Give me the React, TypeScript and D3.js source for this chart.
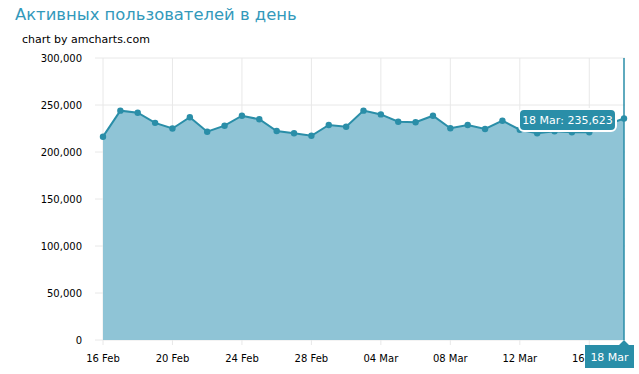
import React from "react";
import * as d3 from "d3";

const dates = [
  "2015-02-16", "2015-02-17", "2015-02-18", "2015-02-19", "2015-02-20", "2015-02-21",
  "2015-02-22", "2015-02-23", "2015-02-24", "2015-02-25", "2015-02-26", "2015-02-27",
  "2015-02-28", "2015-03-01", "2015-03-02", "2015-03-03", "2015-03-04", "2015-03-05",
  "2015-03-06", "2015-03-07", "2015-03-08", "2015-03-09", "2015-03-10", "2015-03-11",
  "2015-03-12", "2015-03-13", "2015-03-14", "2015-03-15", "2015-03-16", "2015-03-17",
  "2015-03-18",
];
const values = [
  216300, 244000, 241800, 231000, 225000, 237000, 221600, 228000, 238600, 234800,
  222300, 219900, 217300, 228700, 226900, 244000, 240000, 232200, 231600, 238600,
  225200, 228700, 224500, 233300, 223700, 220000, 222000, 221000, 221000, 229000,
  235623,
];
const xTickDates = [
  "2015-02-16", "2015-02-20", "2015-02-24", "2015-02-28",
  "2015-03-04", "2015-03-08", "2015-03-12", "2015-03-16",
];
const yTicks = [0, 50000, 100000, 150000, 200000, 250000, 300000];
const title = "Активных пользователей в день";
const credit = "chart by amcharts.com";

const W = 639;
const H = 374;
const M = { left: 103, right: 15, top: 58, bottom: 34 };

const LINE = "#2a8ea8";
const FILL = "#8fc4d6";
const TITLE = "#3399bb";
const GRID = "#e8e8e8";
const FONT = "DejaVu Sans, Verdana, sans-serif";

export default function App() {
  const parse = d3.utcParse("%Y-%m-%d");
  const data = dates.map((d, i) => ({ date: parse(d) as Date, value: values[i] }));
  const x = d3
    .scaleUtc()
    .domain(d3.extent(data, (d) => d.date) as [Date, Date])
    .range([M.left, W - M.right]);
  const y = d3.scaleLinear().domain([0, 300000]).range([H - M.bottom, M.top]);
  const fmtDate = d3.utcFormat("%d %b");
  const fmtNum = d3.format(",");

  const area = d3
    .area<{ date: Date; value: number }>()
    .x((d) => x(d.date))
    .y0(y(0))
    .y1((d) => y(d.value));
  const line = d3
    .line<{ date: Date; value: number }>()
    .x((d) => x(d.date))
    .y((d) => y(d.value));

  const last = data[data.length - 1];
  const cx = x(last.date);
  const cy = y(last.value);
  const plotLeft = M.left - 8;
  const plotRight = W - M.right + 1;

  const tipText = `${fmtDate(last.date)}: ${fmtNum(last.value)}`;
  const tipW = 97;
  const tipH = 22;
  const tipX = cx - 105;
  const tipY = cy - 9.5;

  const catW = 49;
  const catX = Math.min(cx - catW / 2, W - 5 - catW);
  const catY = y(0) + 5;
  const catH = 23;

  return (
    <svg width={W} height={H} style={{ position: "absolute", left: 0, top: 0, background: "#fff" }}>
      <text x={15} y={20} fill={TITLE} fontFamily={FONT} fontSize={16.4}>
        {title}
      </text>
      <text x={22} y={43} fill="#000" fontFamily={FONT} fontSize={11}>
        {credit}
      </text>

      {yTicks.map((t) => (
        <g key={t}>
          <line x1={plotLeft} x2={plotRight} y1={y(t)} y2={y(t)} stroke={GRID} strokeWidth={1} />
          <text
            x={82}
            y={y(t) + 4}
            textAnchor="end"
            fontFamily={FONT}
            fontSize={10}
            fill="#000"
          >
            {fmtNum(t)}
          </text>
        </g>
      ))}

      {xTickDates.map((s) => {
        const d = parse(s) as Date;
        const xx = x(d);
        return (
          <g key={s}>
            <line x1={xx} x2={xx} y1={M.top} y2={y(0) + 5} stroke={GRID} strokeWidth={1} />
            <text
              x={xx}
              y={362}
              textAnchor="middle"
              fontFamily={FONT}
              fontSize={10}
              fill="#000"
            >
              {fmtDate(d)}
            </text>
          </g>
        );
      })}

      <path d={area(data) as string} fill={FILL} />
      <path d={line(data) as string} fill="none" stroke={LINE} strokeWidth={2} />
      {data.map((d, i) => (
        <circle key={i} cx={x(d.date)} cy={y(d.value)} r={3.2} fill={LINE} />
      ))}

      <line x1={cx} x2={cx} y1={M.top} y2={y(0)} stroke={LINE} strokeWidth={1.5} />

      <rect
        x={tipX}
        y={tipY}
        width={tipW}
        height={tipH}
        rx={5}
        fill={LINE}
        stroke="#fff"
        strokeWidth={2}
      />
      <text
        x={tipX + tipW / 2}
        y={tipY + 15}
        textAnchor="middle"
        fontFamily={FONT}
        fontSize={11}
        fill="#fff"
      >
        {tipText}
      </text>

      <path
        d={`M${catX},${catY} L${cx - 5},${catY} L${cx},${y(0)} L${cx + 5},${catY} L${catX + catW},${catY} L${catX + catW},${catY + catH} L${catX},${catY + catH} Z`}
        fill={LINE}
      />
      <text
        x={catX + catW / 2}
        y={catY + 16}
        textAnchor="middle"
        fontFamily={FONT}
        fontSize={11}
        fill="#fff"
      >
        {fmtDate(last.date)}
      </text>
    </svg>
  );
}
